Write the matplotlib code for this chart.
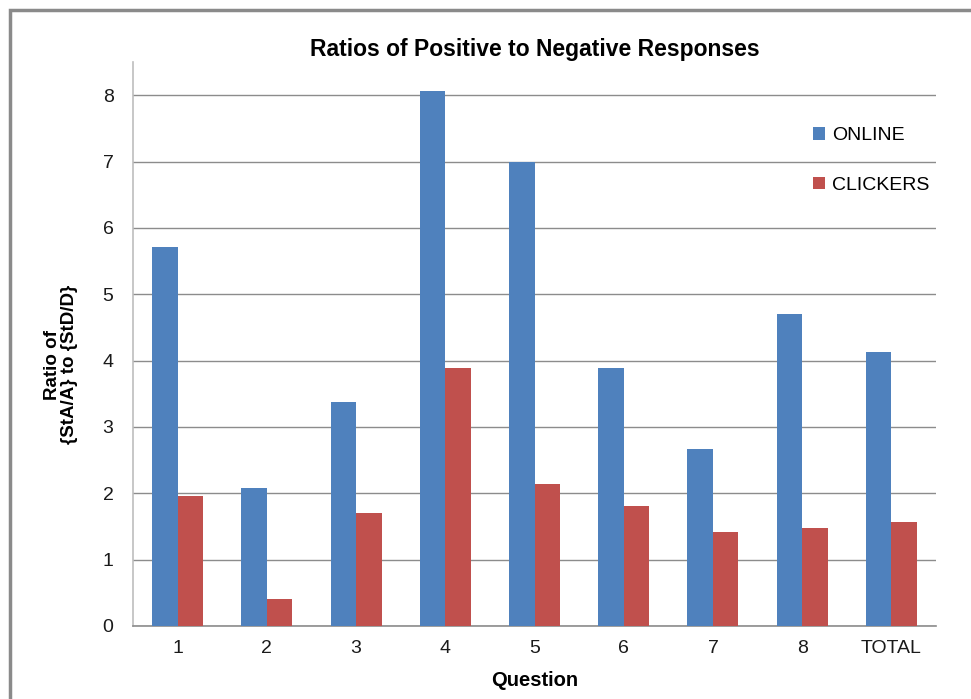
import matplotlib.pyplot as plt
import numpy as np
from matplotlib.patches import Rectangle

plt.rcParams['font.family'] = ['Liberation Sans', 'DejaVu Sans']

questions = ['1', '2', '3', '4', '5', '6', '7', '8', 'TOTAL']
online = [5.71, 2.08, 3.37, 8.07, 7.00, 3.89, 2.67, 4.70, 4.13]
clickers = [1.96, 0.40, 1.70, 3.89, 2.14, 1.81, 1.41, 1.48, 1.57]

blue = '#4F81BD'
red = '#C0504D'

fig = plt.figure(figsize=(9.71, 6.99), dpi=100)
ax = fig.add_axes([133 / 971, 1 - 626 / 699, (936 - 133) / 971, (626 - 62) / 699])

# outer chart border
fig.patches.append(Rectangle((10 / 971, -0.1), 1.1, 1 - 10 / 699 + 0.1,
                             transform=fig.transFigure, fill=False,
                             edgecolor='#8a8a8a', linewidth=2.5))

x = np.arange(len(questions))
w = 0.286
ax.bar(x - w / 2, online, w, color=blue, label='ONLINE', zorder=3)
ax.bar(x + w / 2, clickers, w, color=red, label='CLICKERS', zorder=3)

ax.set_xlim(-0.5, len(questions) - 0.5)
ax.set_ylim(0, 8.5)
ax.set_yticks(range(0, 9))
ax.set_xticks(x)
ax.set_xticklabels(questions)
ax.yaxis.grid(True, color='#8c8c8c', linewidth=1, zorder=0)
ax.set_axisbelow(True)

for side in ['top', 'right']:
    ax.spines[side].set_visible(False)
ax.spines['left'].set_color('#bdbdbd')
ax.spines['left'].set_linewidth(1.2)
ax.spines['bottom'].set_color('#8c8c8c')
ax.spines['bottom'].set_linewidth(1.2)
ax.tick_params(axis='y', length=0, pad=14, labelsize=14, colors='#1a1a1a')
ax.tick_params(axis='x', length=0, pad=10, labelsize=14, colors='#1a1a1a')

ax.set_title('Ratios of Positive to Negative Responses', fontsize=16.5,
             fontweight='bold', pad=0, y=1.0 + 6 / 564)
ax.set_xlabel('Question', fontsize=14.5, fontweight='bold', labelpad=10)
ax.set_ylabel('Ratio of\n{StA/A} to {StD/D}', fontsize=13.5, fontweight='bold',
              linespacing=1.05)
ax.yaxis.set_label_coords(-0.068, 0.463)

ax.legend(loc='upper left', bbox_to_anchor=(0.825, 0.915), frameon=False,
          fontsize=14, handlelength=0.6, handleheight=0.6,
          handletextpad=0.4, labelspacing=1.65)

fig.savefig('out.png', dpi=100)
